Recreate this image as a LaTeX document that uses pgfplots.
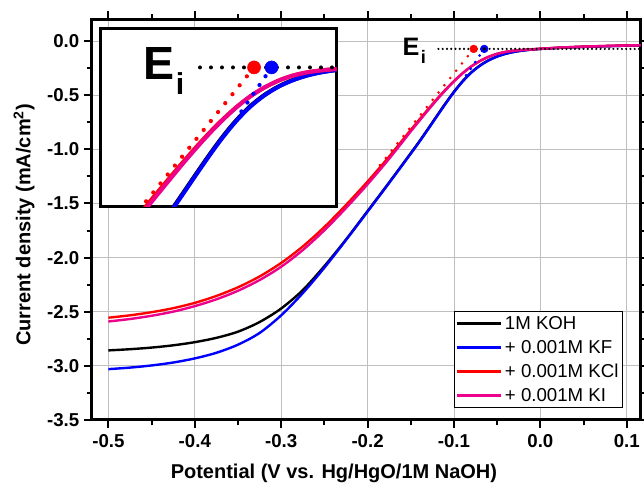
\documentclass[border=0pt]{standalone}
\usepackage{fontspec}
\setmainfont{Liberation Sans}
\usepackage{pgfplots}
\usepackage{pgfplotstable}
\pgfplotsset{compat=1.18}

\pgfplotstableread{
x y
-0.500 -2.857
-0.475 -2.846
-0.450 -2.831
-0.425 -2.810
-0.400 -2.781
-0.375 -2.741
-0.350 -2.684
-0.325 -2.595
-0.300 -2.470
-0.275 -2.300
-0.250 -2.078
-0.2255 -1.838
-0.2005 -1.575
-0.1755 -1.310
-0.1505 -1.040
-0.1405 -0.930
-0.1305 -0.815
-0.1205 -0.698
-0.1105 -0.582
-0.1005 -0.472
-0.0905 -0.374
-0.0805 -0.292
-0.0705 -0.228
-0.0605 -0.179
-0.0505 -0.143
-0.0405 -0.117
-0.0305 -0.099
-0.0205 -0.087
-0.0105 -0.078
-0.0005 -0.072
0.0245 -0.061
0.0495 -0.053
0.0795 -0.046
0.116 -0.039
}\koh

\pgfplotstableread{
x y
-0.500 -3.030
-0.475 -3.016
-0.450 -2.996
-0.425 -2.969
-0.400 -2.931
-0.375 -2.879
-0.350 -2.804
-0.325 -2.696
-0.300 -2.533
-0.275 -2.328
-0.250 -2.093
-0.225 -1.838
-0.200 -1.575
-0.175 -1.310
-0.150 -1.040
-0.140 -0.930
-0.130 -0.815
-0.120 -0.698
-0.110 -0.582
-0.100 -0.472
-0.090 -0.374
-0.080 -0.292
-0.070 -0.228
-0.060 -0.179
-0.050 -0.143
-0.040 -0.117
-0.030 -0.099
-0.020 -0.087
-0.010 -0.078
0.000 -0.072
0.025 -0.061
0.050 -0.053
0.080 -0.046
0.116 -0.039
}\kf

\pgfplotstableread{
x y
-0.500 -2.555
-0.475 -2.533
-0.450 -2.504
-0.425 -2.467
-0.400 -2.418
-0.375 -2.354
-0.350 -2.274
-0.325 -2.174
-0.300 -2.049
-0.275 -1.897
-0.250 -1.717
-0.225 -1.514
-0.200 -1.297
-0.175 -1.066
-0.150 -0.820
-0.138 -0.705
-0.126 -0.592
-0.114 -0.484
-0.102 -0.384
-0.090 -0.296
-0.080 -0.234
-0.070 -0.184
-0.060 -0.145
-0.050 -0.117
-0.040 -0.099
-0.030 -0.088
-0.020 -0.081
-0.010 -0.076
0.000 -0.071
0.025 -0.059
0.050 -0.051
0.080 -0.044
0.116 -0.038
}\kcl

\pgfplotstableread{
x y
-0.500 -2.590
-0.475 -2.567
-0.450 -2.537
-0.425 -2.499
-0.400 -2.448
-0.375 -2.385
-0.350 -2.306
-0.325 -2.207
-0.300 -2.084
-0.275 -1.930
-0.250 -1.747
-0.225 -1.542
-0.200 -1.322
-0.175 -1.086
-0.150 -0.834
-0.138 -0.716
-0.126 -0.600
-0.114 -0.490
-0.102 -0.388
-0.090 -0.298
-0.080 -0.234
-0.070 -0.184
-0.060 -0.145
-0.050 -0.117
-0.040 -0.099
-0.030 -0.088
-0.020 -0.081
-0.010 -0.076
0.000 -0.071
0.025 -0.059
0.050 -0.051
0.080 -0.044
0.116 -0.038
}\ki

\begin{document}
\begin{tikzpicture}
\begin{axis}[
  scale only axis, width=411.45pt, height=300.4pt,
  at={(0pt,0pt)}, anchor=south west,
  xmin=-0.519, xmax=0.116, ymin=-3.5, ymax=0.2,
  xtick={-0.5,-0.4,-0.3,-0.2,-0.1,0,0.1},
  ytick={-3.5,-3,-2.5,-2,-1.5,-1,-0.5,0},
  minor x tick num=1, minor y tick num=1,
  tick align=outside,
  major tick length=6pt, minor tick length=4pt,
  every tick/.style={black, line width=1.5pt},
  axis line style={line width=2.25pt},
  grid=major, major grid style={black!25, line width=0.6pt},
  /pgf/number format/assume math mode=true,
  /pgf/number format/fixed, /pgf/number format/fixed zerofill, /pgf/number format/precision=1,
  ticklabel style={font=\fontsize{14}{16}\selectfont\bfseries},
  xticklabel style={yshift=-1pt},
  every axis x label/.style={at={(axis description cs:0.441,-0.145)}, anchor=base},
  every axis y label/.style={at={(axis description cs:-0.124,0.487)}, rotate=90, anchor=center},
  label style={font=\fontsize{15}{17}\selectfont\bfseries},
  xlabel={Potential (V vs. Hg/HgO/1M NaOH)},
  ylabel={Current density (mA/cm\textsuperscript{2})},
  legend style={at={(axis description cs:0.968,0.029)}, anchor=south east, draw=black, line width=0.75pt,
    font=\fontsize{14}{16}\selectfont, fill=white, inner xsep=1pt, inner ysep=1.5pt, row sep=2.6pt},
  legend cell align=left,
  legend image code/.code={\draw[#1, line width=1.9pt] (0pt,0pt) -- (33pt,0pt);},
]
\addplot[black, line width=1.8pt, smooth] table {\koh};
\addlegendentry{1M KOH}
\addplot[blue, line width=1.8pt, smooth] table {\kf};
\addlegendentry{+ 0.001M KF}
\addplot[red, line width=1.8pt, smooth] table {\kcl};
\addlegendentry{+ 0.001M KCl}
\addplot[magenta, line width=1.8pt, smooth] table {\ki};
\addlegendentry{+ 0.001M KI}
% tangents and E_i
\addplot[forget plot, black, line width=1.8pt, line cap=round, dash pattern=on 0pt off 3.2pt] coordinates {(-0.118,-0.072) (0.116,-0.072)};
\addplot[forget plot, red, line width=2.2pt, line cap=round, dash pattern=on 0pt off 7pt] coordinates {(-0.0772,-0.072) (-0.190,-1.189)};
\addplot[forget plot, blue, line width=2.2pt, line cap=round, dash pattern=on 0pt off 6pt] coordinates {(-0.065,-0.072) (-0.088,-0.34)};
\addplot[forget plot, only marks, mark=*, mark size=2.9pt, blue] coordinates {(-0.065,-0.072)};
\addplot[forget plot, only marks, mark=*, mark size=1.1pt, black] coordinates {(-0.065,-0.072)};
\addplot[forget plot, only marks, mark=*, mark size=2.9pt, red] coordinates {(-0.0772,-0.072)};
\node[anchor=base west, inner sep=0pt, font=\fontsize{18.9}{20}\selectfont\bfseries] at (axis cs:-0.1597,-0.129) {E\kern1pt\raisebox{-6pt}{\fontsize{13.6}{14}\selectfont i}};
\end{axis}

% inset
\begin{axis}[
  scale only axis, width=177.5pt, height=133.8pt,
  at={(6pt,160pt)}, anchor=south west,
  xmin=-0.1846, xmax=-0.0196, ymin=-0.847, ymax=0.146,
  ticks=none,
  axis line style={line width=2.25pt},
  axis background/.style={fill=white},
]
\addplot[black, line width=3pt, smooth] table {\koh};
\addplot[blue, line width=3pt, smooth] table {\kf};
\addplot[red, line width=3pt, smooth] table {\kcl};
\addplot[magenta, line width=3pt, smooth] table {\ki};
\addplot[blue, line width=3.2pt, line cap=round, dash pattern=on 0pt off 8pt] coordinates {(-0.065,-0.072) (-0.088,-0.34)};
\addplot[only marks, mark=*, mark size=4.9pt, blue] coordinates {(-0.065,-0.072)};
\addplot[black, line width=3pt, line cap=round, dash pattern=on 0pt off 8.25pt] coordinates {(-0.1149,-0.072) (0.116,-0.072)};
\addplot[red, line width=3.2pt, line cap=round, dash pattern=on 0pt off 8.6pt] coordinates {(-0.0772,-0.072) (-0.190,-1.189)};
\addplot[only marks, mark=*, mark size=4.9pt, red] coordinates {(-0.0772,-0.072)};
\node[anchor=base west, inner sep=0pt, font=\fontsize{34.9}{36}\selectfont\bfseries] at (axis cs:-0.1544,-0.1417) {E\kern1pt\raisebox{-11.25pt}{\fontsize{22.7}{24}\selectfont i}};
\end{axis}
\pgfresetboundingbox
\useasboundingbox (-69pt,-52.5pt) rectangle (414pt,315pt);
\end{tikzpicture}
\end{document}
